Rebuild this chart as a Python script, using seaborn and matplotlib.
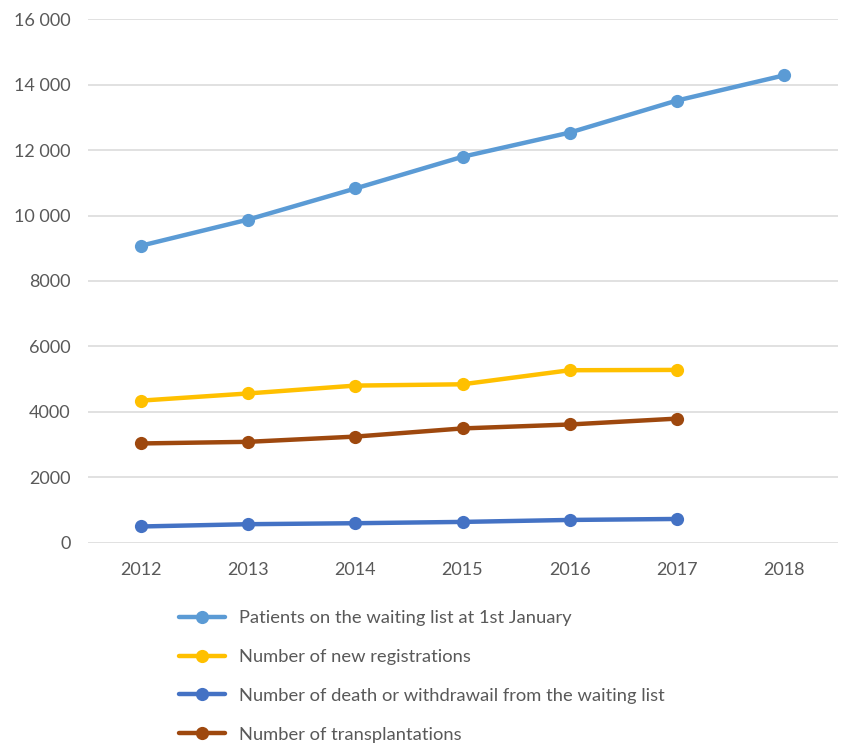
import matplotlib
matplotlib.use("Agg")
import matplotlib.pyplot as plt
from matplotlib.lines import Line2D
import numpy as np
import pandas as pd
import seaborn as sns

years = [2012, 2013, 2014, 2015, 2016, 2017, 2018]
waiting_list = [9080, 9880, 10830, 11800, 12540, 13520, 14290]
new_registrations = [4340, 4560, 4800, 4840, 5270, 5280, np.nan]
deaths_withdrawals = [490, 560, 590, 630, 690, 720, np.nan]
transplantations = [3030, 3080, 3240, 3490, 3610, 3790, np.nan]

series_names = [
    "Patients on the waiting list at 1st January",
    "Number of new registrations",
    "Number of death or withdrawail from the waiting list",
    "Number of transplantations",
]
series_values = [waiting_list, new_registrations, deaths_withdrawals, transplantations]
colors = ["#5B9BD5", "#FFC000", "#4472C4", "#9E480E"]
y_ticks = [0, 2000, 4000, 6000, 8000, 10000, 12000, 14000, 16000]

df = pd.concat(
    [pd.DataFrame({"year": years, "value": vals, "series": name})
     for name, vals in zip(series_names, series_values)],
    ignore_index=True,
).dropna()

sns.set_theme(style="white")
plt.rcParams["font.family"] = ["Lato", "DejaVu Sans"]

text_color = "#595959"
fig = plt.figure(figsize=(8.41, 7.44), dpi=100)
ax = fig.add_axes([87.5 / 841, 1 - 542.5 / 744, 750 / 841, 523 / 744])

sns.lineplot(
    data=df, x="year", y="value", hue="series", hue_order=series_names,
    palette=colors, marker="o", markersize=9.5, markeredgewidth=0,
    linewidth=3.2, ax=ax, legend=False, sort=True,
)

ax.set_xlim(2011.5, 2018.5)
ax.set_ylim(0, 16000)
ax.set_xticks(years)
ax.set_xticklabels([str(y) for y in years])
ax.set_yticks(y_ticks)
ax.set_yticklabels([f"{t:,}".replace(",", " ") if t >= 10000 else str(t) for t in y_ticks])
ax.set_xlabel("")
ax.set_ylabel("")
ax.grid(axis="y", color="#D9D9D9", linewidth=1.1)
ax.set_axisbelow(True)
for s in ax.spines.values():
    s.set_visible(False)
ax.tick_params(axis="both", length=0, labelsize=13, labelcolor=text_color)
ax.tick_params(axis="x", pad=14)
ax.tick_params(axis="y", pad=12)

handles = [
    Line2D([], [], color=c, linewidth=3.2, marker="o", markersize=9.5, markeredgewidth=0)
    for c in colors
]
fig.legend(
    handles, series_names, loc="upper left", bbox_to_anchor=(172 / 841, 1 - 603 / 744),
    frameon=False, fontsize=13.2, labelcolor=text_color, handlelength=2.5,
    handletextpad=0.75, labelspacing=1.24, borderaxespad=0,
)

fig.savefig("out.png", dpi=100)
